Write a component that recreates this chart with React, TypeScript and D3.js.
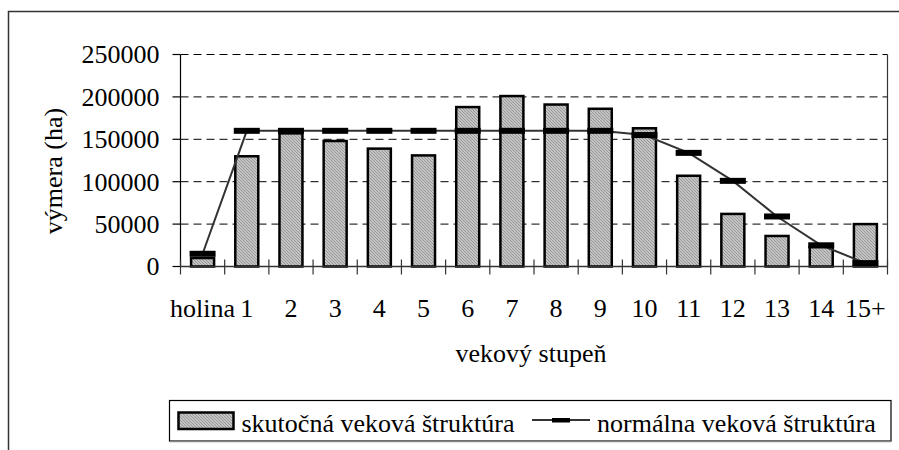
import React from "react";
import * as d3 from "d3";

const categories = ["holina", "1", "2", "3", "4", "5", "6", "7", "8", "9", "10", "11", "12", "13", "14", "15+"];
const actualValues = [10000, 130000, 157000, 148000, 139000, 131000, 188000, 201000, 191000, 186000, 163000, 107000, 62000, 36000, 23000, 50000];
const normalValues = [15000, 160000, 160000, 160000, 160000, 160000, 160000, 160000, 160000, 160000, 155000, 134000, 101000, 59000, 25000, 4000];
const yTicks = [0, 50000, 100000, 150000, 200000, 250000];
const yTitle = "výmera (ha)";
const xTitle = "vekový stupeň";
const legendActual = "skutočná veková štruktúra";
const legendNormal = "normálna veková štruktúra";

const W = 899;
const H = 450;
const plotLeft = 180.5;
const plotRight = 887.5;
const plotTop = 54.5;
const plotBottom = 266.5;
const FONT = "Liberation Serif, Tinos, DejaVu Serif, serif";
const textStyle = { fontFamily: FONT, fontSize: "26px" };

export default function App() {
  const x = d3
    .scaleBand<string>()
    .domain(categories)
    .range([plotLeft, plotRight])
    .paddingInner(0.48)
    .paddingOuter(0.24);
  const step = x.step();
  const y = d3.scaleLinear().domain([0, 250000]).range([plotBottom, plotTop]);
  const cx = (c: string) => (x(c) as number) + x.bandwidth() / 2;

  const line = d3
    .line<number>()
    .x((_, i) => cx(categories[i]))
    .y((d) => y(d));

  const boundaries = d3.range(categories.length + 1).map((i) => plotLeft + i * step);

  return (
    <svg
      width={W}
      height={H}
      style={{ position: "absolute", left: 0, top: 0, display: "block", background: "#fff", fontFamily: FONT }}
    >
      <defs>
        <pattern id="hatch" width="3" height="3" patternUnits="userSpaceOnUse">
          <rect width="3" height="3" fill="#c4c4c4" />
          <path d="M0,0 L3,3 M-1,2 L1,4 M2,-1 L4,1" stroke="#8c8c8c" strokeWidth="0.8" />
        </pattern>
      </defs>
      <rect x={0} y={0} width={W} height={H} fill="#fff" />
      {/* outer frame */}
      <rect x={8.5} y={11.5} width={W + 20} height={H + 20} fill="none" stroke="#333" strokeWidth={1.5} />

      {/* gridlines */}
      {yTicks.filter((t) => t > 0).map((t) => (
        <line key={"g" + t} x1={plotLeft} x2={plotRight} y1={y(t)} y2={y(t)} stroke="#000" strokeWidth={1} strokeDasharray="8,5" />
      ))}
      {/* right border */}
      <line x1={plotRight} x2={plotRight} y1={plotTop} y2={plotBottom} stroke="#333" strokeWidth={1.2} />

      {/* y axis */}
      <line x1={plotLeft} x2={plotLeft} y1={plotTop} y2={plotBottom} stroke="#000" strokeWidth={1.2} />
      {yTicks.map((t) => (
        <g key={"yt" + t}>
          <line x1={plotLeft - 8} x2={plotLeft} y1={y(t)} y2={y(t)} stroke="#000" strokeWidth={1.2} />
          <text x={159.5} y={y(t)} dy="0.34em" textAnchor="end" style={textStyle} fill="#000">
            {t}
          </text>
        </g>
      ))}

      {/* bars */}
      {actualValues.map((v, i) => (
        <rect
          key={"b" + i}
          x={x(categories[i])}
          y={y(v)}
          width={x.bandwidth()}
          height={y(0) - y(v)}
          fill="url(#hatch)"
          stroke="#000"
          strokeWidth={2.5}
        />
      ))}

      {/* x axis */}
      <line x1={plotLeft} x2={plotRight} y1={plotBottom} y2={plotBottom} stroke="#333" strokeWidth={1.5} />
      {boundaries.map((b, i) => (
        <line key={"xt" + i} x1={b} x2={b} y1={plotBottom - 7} y2={plotBottom + 8} stroke="#333" strokeWidth={1.2} />
      ))}

      {/* normal line */}
      <path d={line(normalValues) || ""} fill="none" stroke="#333" strokeWidth={2} />
      {normalValues.map((v, i) => (
        <rect key={"m" + i} x={cx(categories[i]) - 13} y={y(v) - 3} width={26} height={6} fill="#000" />
      ))}

      {/* x labels */}
      {categories.map((c) => (
        <text key={"xl" + c} x={cx(c)} y={317} textAnchor="middle" style={textStyle} fill="#000">
          {c}
        </text>
      ))}

      {/* titles */}
      <text x={(plotLeft + plotRight) / 2 - 3} y={362} textAnchor="middle" style={textStyle} fill="#000">
        {xTitle}
      </text>
      <text transform={`translate(62,171) rotate(-90)`} textAnchor="middle" style={textStyle} fill="#000">
        {yTitle}
      </text>

      {/* legend */}
      <rect x={169.5} y={400.5} width={721.5} height={40.5} fill="#fff" stroke="#000" strokeWidth={1.2} />
      <line x1={170} x2={891} y1={441.5} y2={441.5} stroke="#888" strokeWidth={1.5} />
      <rect x={178.5} y={412.5} width={55} height={16.5} fill="url(#hatch)" stroke="#000" strokeWidth={2.5} />
      <text x={241.5} y={431.5} style={textStyle} fill="#000">
        {legendActual}
      </text>
      <line x1={532} x2={590} y1={420} y2={420} stroke="#333" strokeWidth={2} />
      <rect x={552} y={418} width={18} height={4.5} fill="#000" />
      <text x={597} y={431.5} style={textStyle} fill="#000">
        {legendNormal}
      </text>
    </svg>
  );
}
